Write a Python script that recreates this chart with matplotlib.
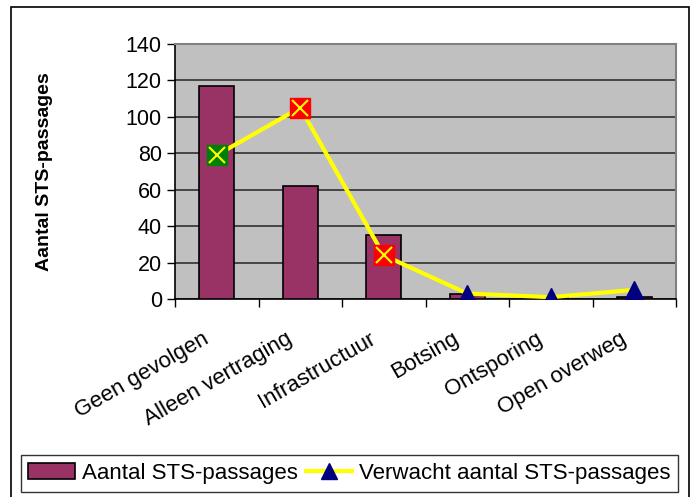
import matplotlib
matplotlib.use("Agg")
import matplotlib.pyplot as plt
import matplotlib.transforms as mtransforms
from matplotlib.patches import Rectangle, Patch
from matplotlib.lines import Line2D

plt.rcParams['font.family'] = ['Liberation Sans', 'DejaVu Sans']

categories = ["Geen gevolgen", "Alleen vertraging", "Infrastructuur", "Botsing", "Ontsporing", "Open overweg"]
bar_values = [117, 62, 35, 3, 0.5, 1]
line_values = [79, 105, 24, 3, 1, 5]
y_ticks = [0, 20, 40, 60, 80, 100, 120, 140]
bar_label = "Aantal STS-passages"
line_label = "Verwacht aantal STS-passages"
y_title = "Aantal STS-passages"

W, H = 697, 497
fig = plt.figure(figsize=(W/100, H/100), dpi=100)
fig.patch.set_facecolor('white')
fig.add_artist(Rectangle((11/W, -0.02), (689-11)/W, (H-7)/H + 0.02, transform=fig.transFigure,
                         fill=False, edgecolor='black', linewidth=1.2))

ax = fig.add_axes([175/W, 1-299/H, (676-175)/W, (299-44)/H])
ax.set_facecolor('#C0C0C0')
x = list(range(len(categories)))
ax.set_xlim(-0.5, len(categories)-0.5)
ax.set_ylim(0, 140)
ax.set_yticks(y_ticks)
ax.yaxis.grid(True, color='#303030', linewidth=1.2)
ax.set_axisbelow(True)

ax.bar(x, bar_values, width=0.42, color='#993366', edgecolor='black', linewidth=1.2, zorder=3)
ax.plot(x, line_values, color='#FFFF00', linewidth=3, zorder=4)

square_colors = ['#008000', '#FF0000', '#FF0000']
for i, v in enumerate(line_values):
    if i < 3:
        c = square_colors[i]
        ax.plot(i, v, marker='s', markersize=14, markerfacecolor=c, markeredgecolor=c, zorder=5)
        ax.plot(i, v, marker='x', markersize=12, markeredgecolor='#FFFF00', markeredgewidth=1.5, zorder=6)
    else:
        ax.plot(i, v, marker='^', markersize=13, markerfacecolor='#000080', markeredgecolor='#000080', zorder=5)

for s in ['top', 'right']:
    ax.spines[s].set_color('#808080')
    ax.spines[s].set_linewidth(1.5)
for s in ['left', 'bottom']:
    ax.spines[s].set_color('black')
    ax.spines[s].set_linewidth(1.2)

ax.set_xticks([i - 0.5 for i in range(len(categories)+1)], minor=False)
ax.set_xticklabels([])
ax.tick_params(axis='x', which='major', length=6, direction='out', width=1)
ax.set_xticks(x, minor=True)
ax.set_xticklabels(categories, minor=True, rotation=30, ha='right', rotation_mode='anchor', fontsize=16)
ax.tick_params(axis='x', which='minor', length=0, pad=21)
offset = mtransforms.ScaledTranslation(-15/100, 0, fig.dpi_scale_trans)
for lbl in ax.xaxis.get_minorticklabels():
    lbl.set_transform(lbl.get_transform() + offset)
ax.tick_params(axis='y', length=6, direction='out', labelsize=15.5, width=1)

ax.set_ylabel(y_title, fontsize=14, fontweight='bold')
ax.yaxis.set_label_coords(-0.2435, 0.5)

handles = [Patch(facecolor='#993366', edgecolor='black', linewidth=1.2),
           Line2D([0], [0], color='#FFFF00', linewidth=3, marker='^', markersize=11,
                  markerfacecolor='#000080', markeredgecolor='#000080')]
leg = fig.legend(handles, [bar_label, line_label], loc='center',
                 bbox_to_anchor=(349.5/W, 1-473.5/H),
                 ncol=2, fontsize=16, frameon=True, fancybox=False, handlelength=2.1,
                 handleheight=0.75, borderaxespad=0, handletextpad=0.3, columnspacing=0.36,
                 borderpad=0.35)
leg.get_frame().set_edgecolor('black')
leg.get_frame().set_linewidth(1)

fig.savefig("out.png", dpi=100)
